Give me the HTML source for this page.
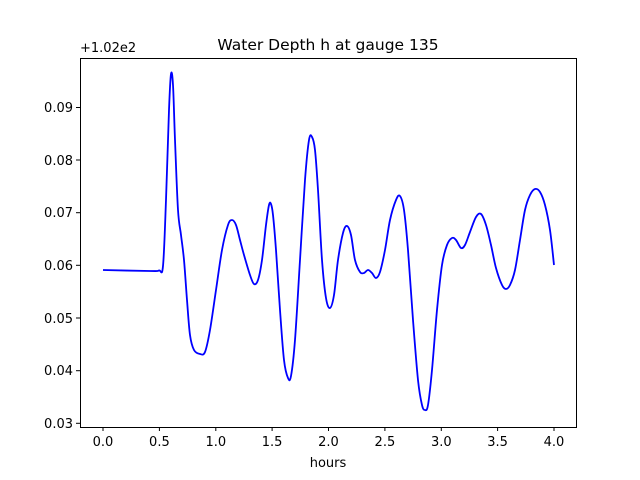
<!DOCTYPE html>
<html><head><meta charset="utf-8"><style>body{margin:0;background:#fff}svg{display:block}text{font-family:"DejaVu Sans","Liberation Sans",sans-serif;font-size:13px;fill:#000}</style></head><body>
<svg width="640" height="480" viewBox="0 0 640 480">
<rect width="640" height="480" fill="#fff"/>
<path id="curve" fill="none" stroke="#0000ff" stroke-width="1.8" stroke-linejoin="round" d=""/>
<rect x="80.5" y="58.5" width="496" height="369" fill="none" stroke="#000" stroke-width="1"/>
<g stroke="#000" stroke-width="1">
<line x1="103" y1="427" x2="103" y2="431"/><line x1="159.4" y1="427" x2="159.4" y2="431"/><line x1="215.8" y1="427" x2="215.8" y2="431"/><line x1="272.1" y1="427" x2="272.1" y2="431"/><line x1="328.5" y1="427" x2="328.5" y2="431"/><line x1="384.9" y1="427" x2="384.9" y2="431"/><line x1="441.3" y1="427" x2="441.3" y2="431"/><line x1="497.6" y1="427" x2="497.6" y2="431"/><line x1="554" y1="427" x2="554" y2="431"/>
<line x1="76" y1="107.5" x2="80" y2="107.5"/><line x1="76" y1="160" x2="80" y2="160"/><line x1="76" y1="212.7" x2="80" y2="212.7"/><line x1="76" y1="265.3" x2="80" y2="265.3"/><line x1="76" y1="318" x2="80" y2="318"/><line x1="76" y1="370.7" x2="80" y2="370.7"/><line x1="76" y1="423.3" x2="80" y2="423.3"/>
</g>
<g text-anchor="middle">
<text x="103" y="446">0.0</text><text x="159.4" y="446">0.5</text><text x="215.8" y="446">1.0</text><text x="272.1" y="446">1.5</text><text x="328.5" y="446">2.0</text><text x="384.9" y="446">2.5</text><text x="441.3" y="446">3.0</text><text x="497.6" y="446">3.5</text><text x="554" y="446">4.0</text>
<text x="328" y="467">hours</text>
<text x="328" y="50" style="font-size:15.5px">Water Depth h at gauge 135</text>
</g>
<g text-anchor="end">
<text x="73" y="112">0.09</text><text x="73" y="165">0.08</text><text x="73" y="217">0.07</text><text x="73" y="270">0.06</text><text x="73" y="323">0.05</text><text x="73" y="375">0.04</text><text x="73" y="428">0.03</text>
</g>
<text x="80" y="52">+1.02e2</text>
</svg>
<script>
var s="103,270 150,271 159,270.5 163,266 166,200 169,110 171,74 173,85 175,140 178,210 181,235 184,260 187,300 190,335 194,350 200,354 205,352 210,330 216,290 222,250 228,225 232,220 236,225 240,240 244,255 250,275 254,284 258,280 262,260 266,225 269,205 271,204 273,215 276,250 280,310 284,360 288,378 291,376 295,340 300,260 305,180 309,140 312,137 315,150 318,190 322,260 326,298 330,308 334,295 338,260 343,233 347,226 351,235 355,260 360,272 364,273 368,270 372,273 376,278 380,272 385,250 390,220 396,200 400,196 404,210 408,250 413,320 418,380 422,405 425,410 428,405 432,370 437,310 442,265 447,245 452,238 456,240 461,248 465,245 470,232 476,217 481,214 486,225 491,245 496,268 502,285 506,289 510,285 515,270 520,240 525,210 530,195 535,189 540,192 545,205 550,230 554,265";
var p=s.split(" ").map(function(a){return a.split(",").map(Number)});
var d="M"+p[0][0]+","+p[0][1];
for(var i=0;i<p.length-1;i++){var p0=p[Math.max(0,i-1)],p1=p[i],p2=p[i+1],p3=p[Math.min(p.length-1,i+2)];
d+=" C"+(p1[0]+(p2[0]-p0[0])/6)+","+(p1[1]+(p2[1]-p0[1])/6)+" "+(p2[0]-(p3[0]-p1[0])/6)+","+(p2[1]-(p3[1]-p1[1])/6)+" "+p2[0]+","+p2[1];}
document.getElementById("curve").setAttribute("d",d);
</script>
</body></html>
